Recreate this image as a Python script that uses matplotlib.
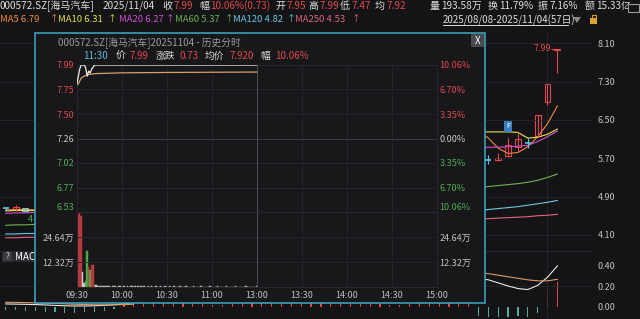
import matplotlib
matplotlib.use("Agg")
import matplotlib.pyplot as plt
from matplotlib.patches import Rectangle, Polygon

plt.rcParams['font.family'] = ['Noto Sans CJK SC', 'DejaVu Sans']

W, H = 640, 319

BG = '#141417'
POP_BG = '#18181b'
GRID = '#28282c'
TXT = '#dcdcdc'
GRAY = '#9a9a9a'
RED = '#e0484c'
GREEN = '#4fae50'
CYAN = '#3fa9c9'
K_DOWN = '#5ec4dc'

# ---------------- header data
code_name = "000572.SZ[海马汽车]"
trade_date = "2025/11/04"
quote_keys = ["收", "幅", "开", "高", "低", "均"]
quote_vals = ["7.99", "10.06%(0.73)", "7.95", "7.99", "7.47", "7.92"]
stat_keys = ["量", "换", "振", "额"]
stat_vals = ["193.58万", "11.79%", "7.16%", "15.33亿"]
ma_names = ["MA5", "MA10", "MA20", "MA60", "MA120", "MA250"]
ma_last = [6.79, 6.31, 6.27, 5.37, 4.82, 4.53]
date_range = "2025/08/08-2025/11/04(57日)"

# ---------------- daily chart (only days not hidden by the popup)
k_days = [0, 1, 2, 49, 50, 51, 52, 53, 54, 55, 56]
k_open = [4.66, 4.61, 4.66, 5.67, 5.66, 5.75, 5.94, 6.01, 6.17, 6.88, 7.95]
k_high = [4.68, 4.72, 4.67, 5.77, 5.81, 6.13, 6.25, 6.12, 6.60, 7.26, 7.99]
k_low = [4.63, 4.60, 4.58, 5.59, 5.65, 5.72, 5.84, 5.91, 6.14, 6.81, 7.47]
k_close = [4.65, 4.69, 4.59, 5.66, 5.71, 5.98, 6.10, 6.00, 6.60, 7.26, 7.99]
k_levels = [4.10, 4.90, 5.70, 6.50, 7.30, 8.10]

left_days = [0, 1, 2, 3]
ma5_l = [4.62, 4.63, 4.63, 4.62]
ma10_l = [4.60, 4.61, 4.61, 4.61]
ma20_l = [4.55, 4.56, 4.56, 4.57]
ma60_l = [4.30, 4.31, 4.31, 4.32]
ma120_l = [4.12, 4.12, 4.13, 4.13]
ma250_l = [4.04, 4.04, 4.05, 4.05]

right_days = [48, 49, 50, 51, 52, 53, 54, 55, 56]
ma5_r = [6.28, 6.12, 5.91, 5.80, 5.82, 5.94, 6.15, 6.42, 6.79]
ma10_r = [6.25, 6.25, 6.25, 6.25, 6.24, 6.12, 6.14, 6.20, 6.31]
ma20_r = [5.93, 5.93, 5.93, 5.94, 5.95, 5.97, 6.05, 6.15, 6.27]
ma60_r = [5.09, 5.11, 5.13, 5.15, 5.17, 5.20, 5.24, 5.30, 5.37]
ma120_r = [4.61, 4.63, 4.65, 4.67, 4.69, 4.72, 4.75, 4.78, 4.82]
ma250_r = [4.43, 4.44, 4.45, 4.46, 4.47, 4.48, 4.50, 4.51, 4.53]

# MACD
macd_levels = [0.0, 0.2, 0.4]
macd_hist = [-0.03, -0.03, -0.04, -0.04, -0.05, -0.05, -0.06, -0.06, -0.05, -0.05, -0.04, -0.02,
             0.02, 0.04, 0.06, 0.08, 0.10, 0.09, 0.07, 0.05, 0.03, 0.02, 0.02, 0.03,
             0.05, 0.08, 0.11, 0.13, 0.14, 0.12, 0.10, 0.08, 0.07, 0.06, 0.05, 0.06,
             0.07, 0.05, 0.03, 0.02, 0.02, 0.03, 0.05, 0.06, 0.07, 0.06, 0.05, 0.04,
             -0.09, -0.10, -0.10, -0.10, -0.09, -0.10, -0.06, 0.17, 0.24]
dif_l = [0.030, 0.028, 0.026, 0.024, 0.020, 0.016, 0.012, 0.010, 0.010, 0.012, 0.016, 0.022, 0.030, 0.045]
dea_l = [0.046, 0.045, 0.043, 0.041, 0.038, 0.035, 0.031, 0.027, 0.024, 0.022, 0.021, 0.021, 0.023, 0.027]
dif_r = [0.28, 0.265, 0.235, 0.205, 0.18, 0.17, 0.21, 0.29, 0.40]
dea_r = [0.335, 0.325, 0.31, 0.295, 0.28, 0.265, 0.255, 0.255, 0.27]

# ---------------- intraday popup
pop_title = "000572.SZ[海马汽车]20251104 - 历史分时"
info_time = "11:30"
info_keys = ["价", "涨跌", "均价", "幅"]
info_vals = ["7.99", "0.73", "7.920", "10.06%"]
prev_close = 7.26
price_levels = [7.99, 7.75, 7.50, 7.26, 7.02, 6.77, 6.53]
pct_labels = ["10.06%", "6.70%", "3.35%", "0.00%", "3.35%", "6.70%", "10.06%"]
vol_levels = [12.32, 24.64]
vol_labels = ["12.32万", "24.64万"]
time_labels = ["09:30", "10:00", "10:30", "11:00", "13:00", "13:30", "14:00", "14:30", "15:00"]

head_price = [7.79, 7.87, 7.95, 7.99, 7.99, 7.99, 7.96, 7.88, 7.93, 7.91, 7.95, 7.97, 7.99, 7.99]
tail_price = 7.99
avg_min = [0, 1, 2, 3, 4, 5, 6, 7, 8, 10, 13, 30, 60, 120]
avg_val = [7.78, 7.80, 7.83, 7.86, 7.87, 7.88, 7.885, 7.89, 7.895, 7.90, 7.905, 7.912, 7.916, 7.92]
head_vol = [36.5, 35.5, 36.8, 34.8, 7.5, 2.0, 3.0, 17.5, 10.0, 8.5, 11.0, 11.0, 1.2, 0.8]
tail_vol = [0.6, 0.5, 0.4, 0.7, 0.3, 0.5, 0.4, 0.3, 0.6, 0.2,
            0.4, 0.3, 0.5, 0.2, 0.3, 0.4, 0.2, 0.3, 0.5, 0.2,
            0.3, 0.2, 0.4, 0.3, 0.2, 0.3, 0.2, 0.4, 0.2, 0.3,
            0.2, 0.3, 0.2, 0.2, 0.4, 0.2, 0.3, 0.2, 0.2, 0.3,
            0.2, 0.2, 0.3, 0.2, 0.2, 0.4, 0.2, 0.2, 0.3, 0.2,
            0.2, 0.3, 0.2, 0.2, 0.2, 0.3, 0.2, 0.2, 0.2, 0.3,
            0.2, 0.2, 0.2, 0.2, 0.3, 0.2, 0.2, 0.2, 0.2, 0.3,
            0.2, 0.2, 0.2, 0.2, 0.2, 0.3, 0.2, 0.2, 0.2, 0.2,
            0.3, 0.2, 0.2, 0.2, 0.2, 0.2, 0.3, 0.2, 0.2, 0.2,
            0.2, 0.2, 0.3, 0.2, 0.2, 0.2, 0.2, 0.2, 0.2, 0.3,
            0.2, 0.2, 0.2, 0.2, 0.2, 0.2, 0.4]

ma_colors = ['#f08a3c', '#e6e04e', '#d24fd2', '#6fb24a', '#6cc6e2', '#e0667a']

fig = plt.figure(figsize=(W / 100, H / 100), dpi=100, facecolor=BG)


def px_ax(l, t, r, b):
    return fig.add_axes([l / W, 1 - b / H, (r - l) / W, (b - t) / H])


def ftext(x, y, s, color=TXT, size=7, **kw):
    kw.setdefault('va', 'center')
    return fig.text(x / W, 1 - y / H, s, color=color, fontsize=size, **kw)


# ================= background daily chart
XLIM = (-0.58, 59.52)
ax_k = px_ax(0, 33, 592, 251)
ax_k.set_facecolor(BG)
ax_k.set_xlim(*XLIM)
ax_k.set_ylim(3.764, 8.315)
for s in ax_k.spines.values():
    s.set_visible(False)
ax_k.set_xticks([])
ax_k.yaxis.tick_right()
ax_k.set_yticks(k_levels)
ax_k.set_yticklabels([f"{v:.2f}" for v in k_levels])
ax_k.tick_params(axis='y', length=0, pad=4.3, labelsize=6.5, labelcolor='#c4c4c4')
ax_k.grid(axis='y', color=GRID, lw=0.6)
ax_k.axvline(55, color=GRID, lw=0.6)

for lst_l, lst_r, col in zip([ma5_l, ma10_l, ma20_l, ma60_l, ma120_l, ma250_l],
                             [ma5_r, ma10_r, ma20_r, ma60_r, ma120_r, ma250_r], ma_colors):
    ax_k.plot(left_days, lst_l, color=col, lw=0.8)
    ax_k.plot(right_days, lst_r, color=col, lw=0.8)

for d, o, h, l, c in zip(k_days, k_open, k_high, k_low, k_close):
    col = RED if c > o else K_DOWN
    ax_k.vlines(d, l, h, color=col, lw=0.8)
    if abs(c - o) < 0.02:
        ax_k.hlines(o, d - 0.3, d + 0.3, color=col, lw=1.2)
    else:
        ax_k.add_patch(Rectangle((d - 0.3, min(o, c)), 0.6, abs(c - o),
                                 facecolor=BG if c > o else col, edgecolor=col, lw=0.8))

ax_k.hlines(k_high[-1], k_days[-1] - 0.6, k_days[-1], color=RED, lw=0.8)
ax_k.text(k_days[-1] - 0.65, k_high[-1], quote_vals[0], color=RED, fontsize=6.5,
          ha='right', va='center')
ax_k.text(51, 6.37, "F", color='white', fontsize=5.5, ha='center', va='center',
          bbox=dict(boxstyle='square,pad=0.2', fc='#3a7fc4', ec='none'))
ax_k.text(28 / W, 1 - 219 / H, "4", transform=fig.transFigure, color=GREEN,
          fontsize=6.5, va='center')

# MACD panel
ax_m = px_ax(0, 251, 592, 319)
ax_m.set_facecolor(BG)
ax_m.set_xlim(*XLIM)
ax_m.set_ylim(-0.117, 0.546)
for s in ax_m.spines.values():
    s.set_visible(False)
ax_m.spines['top'].set_visible(True)
ax_m.spines['top'].set_color(GRID)
ax_m.set_xticks([])
ax_m.yaxis.tick_right()
ax_m.set_yticks(macd_levels)
ax_m.set_yticklabels([f"{v:.2f}" for v in macd_levels])
ax_m.tick_params(axis='y', length=0, pad=4.3, labelsize=6.5, labelcolor='#c4c4c4')
ax_m.axhline(0.2, color=GRID, lw=0.6)
ax_m.axvline(55, color=GRID, lw=0.6)
hist_days = list(range(len(macd_hist)))
ax_m.bar(hist_days, macd_hist, width=0.12,
         color=[RED if v > 0 else '#4fae96' for v in macd_hist], linewidth=0)
ax_m.plot(range(len(dif_l)), dif_l, color='#e8e8e8', lw=0.8)
ax_m.plot(range(len(dea_l)), dea_l, color='#d99a5e', lw=0.8)
ax_m.plot(right_days, dif_r, color='#e8e8e8', lw=0.8)
ax_m.plot(right_days, dea_r, color='#d99a5e', lw=0.8)
ax_m.add_patch(Rectangle((2 / W, 1 - 262 / H), 33 / W, 11 / H, transform=fig.transFigure,
                         fc='#2a2a2e', ec='none'))
ax_m.add_patch(Rectangle((3 / W, 1 - 261 / H), 9 / W, 9 / H, transform=fig.transFigure,
                         fc='#3c3c40', ec='none'))
ax_m.text(7.5 / W, 1 - 256.5 / H, "?", transform=fig.transFigure, color=TXT,
          fontsize=6, ha='center', va='center')
ax_m.text(15 / W, 1 - 256.5 / H, "MACD", transform=fig.transFigure, color='white',
          fontsize=7, va='center')

# ================= header
ftext(0, 6, code_name, size=7.2)
ftext(103, 6, trade_date, size=7.2)
for x, k, v in zip([162, 199, 275, 308, 340, 375], quote_keys, quote_vals):
    ftext(x, 6, k, size=7.2)
    ftext(x + 11.5, 6, v, color=RED, size=7.2)
for x, k, v in zip([430, 488, 538, 585], stat_keys, stat_vals):
    ftext(x, 6, k, size=7.2)
    ftext(x + 11.5, 6, v, size=7.2)

for x, xa, n, v, col in zip([0, 58, 119, 175, 233, 295], [50, 108, 166, 225, 287, 352],
                            ma_names, ma_last, ma_colors):
    ftext(x, 19, f"{n} {v:.2f}", color=col, size=6.8)
    ftext(xa, 19, "↑", color=col, size=6.3)

ftext(443, 20, date_range, size=7)
fig.add_artist(plt.Line2D([443 / W, 568 / W], [1 - 25 / H, 1 - 25 / H],
                          transform=fig.transFigure, color=TXT, lw=0.7))
fig.add_artist(Polygon([(573 / W, 1 - 17 / H), (581 / W, 1 - 17 / H), (577 / W, 1 - 23 / H)],
                       closed=True, transform=fig.transFigure, fc='#8a8a8a', ec='none'))
fig.add_artist(Rectangle((590 / W, 1 - 24 / H), 7 / W, 6 / H, transform=fig.transFigure,
                         fc='#e0a030', ec='none'))
fig.add_artist(Rectangle((591.5 / W, 1 - 18 / H), 4 / W, 3 / H, transform=fig.transFigure,
                         fc='none', ec='#e0a030', lw=0.8))
fig.add_artist(Rectangle((628 / W, 1 - 12 / H), 11 / W, 8 / H, transform=fig.transFigure,
                         fc=BG, ec='#9a9a9a', lw=0.8, zorder=4))

# ================= popup
fig.add_artist(Rectangle((34.5 / W, 1 - 303 / H), 450 / W, 270 / H, transform=fig.transFigure,
                         fc=POP_BG, ec=CYAN, lw=1.1, zorder=1))
fig.add_artist(Rectangle((471 / W, 1 - 47 / H), 13 / W, 13 / H, transform=fig.transFigure,
                         fc='#4a4a4e', ec='none', zorder=2))
ftext(477.5, 40.5, "X", color='white', size=7, ha='center')
ftext(58, 43, pop_title, color=GRAY, size=7)
ftext(83, 56, info_time, color='#5ab8d6', size=7)
for x, xv, k, v in zip([116, 156, 205, 260], [130, 180, 230, 275], info_keys, info_vals):
    ftext(x, 56, k, size=7)
    ftext(xv, 56, v, color=RED, size=7)


def level_color(p):
    if abs(p - prev_close) < 1e-6:
        return '#c8c8c8'
    return RED if p > prev_close else GREEN


minute_ticks = list(range(0, 241, 30))

ax_p = px_ax(76.7, 65, 436.7, 212)
ax_p.set_zorder(2)
ax_p.patch.set_visible(False)
ax_p.set_xlim(0, 240)
ax_p.set_ylim(price_levels[-1], price_levels[0])
ax_p.set_xticks(minute_ticks)
ax_p.set_yticks(price_levels)
ax_p.set_yticklabels([f"{p:.2f}" for p in price_levels])
ax_p.tick_params(length=0, labelbottom=False, labelsize=6.5, pad=2)
ax_p.grid(True, color=GRID, lw=0.6)
ax_p.axhline(prev_close, color='#3a3a3e', lw=0.7)
ax_p.axvline(120, color='#4c4c50', lw=0.8)
for s in ax_p.spines.values():
    s.set_color(GRID)
for lab, p in zip(ax_p.get_yticklabels(), price_levels):
    lab.set_color(level_color(p))
ax_p.get_yticklabels()[-1].set_va('bottom')

ax_p2 = ax_p.twinx()
ax_p2.set_zorder(3)
ax_p2.set_ylim(price_levels[-1], price_levels[0])
ax_p2.set_yticks(price_levels)
ax_p2.set_yticklabels(pct_labels)
ax_p2.tick_params(length=0, labelsize=6.5, pad=2)
for s in ax_p2.spines.values():
    s.set_visible(False)
for lab, p in zip(ax_p2.get_yticklabels(), price_levels):
    lab.set_color(level_color(p))
ax_p2.get_yticklabels()[-1].set_va('bottom')

price_min = list(range(len(head_price))) + [120]
ax_p.plot(price_min, head_price + [tail_price], color='#ececec', lw=0.9, zorder=3)
ax_p.plot(avg_min, avg_val, color='#d8a066', lw=0.9, zorder=2)

# volume
vol = head_vol + tail_vol
vol_colors = []
for i in range(len(vol)):
    if i < len(head_price):
        prev = prev_close if i == 0 else head_price[i - 1]
        if head_price[i] > prev:
            vol_colors.append('#b83a3e')
        elif head_price[i] < prev:
            vol_colors.append('#4fa84a')
        else:
            vol_colors.append('#d0d0d0')
    else:
        vol_colors.append('#bdbdbd')

ax_v = px_ax(76.7, 212, 436.7, 287)
ax_v.set_zorder(2)
ax_v.patch.set_visible(False)
ax_v.set_xlim(0, 240)
ax_v.set_ylim(0, 36.96)
ax_v.bar(range(len(vol)), vol, width=1.0, color=vol_colors, edgecolor=vol_colors,
         linewidth=0.3)
ax_v.set_xticks(minute_ticks)
ax_v.set_xticklabels(time_labels)
ax_v.set_yticks(vol_levels)
ax_v.set_yticklabels(vol_labels)
ax_v.tick_params(length=0, labelsize=6.5, pad=2, labelcolor='#c0c0c0')
ax_v.tick_params(axis='x', pad=3)
ax_v.grid(True, color=GRID, lw=0.6)
ax_v.axvline(120, color='#4c4c50', lw=0.8)
for s in ax_v.spines.values():
    s.set_color(GRID)

ax_v2 = ax_v.twinx()
ax_v2.set_zorder(3)
ax_v2.set_ylim(0, 36.96)
ax_v2.set_yticks(vol_levels)
ax_v2.set_yticklabels(vol_labels)
ax_v2.tick_params(length=0, labelsize=6.5, pad=2, labelcolor='#c0c0c0')
for s in ax_v2.spines.values():
    s.set_visible(False)

fig.savefig("out.png", dpi=100, facecolor=BG)
